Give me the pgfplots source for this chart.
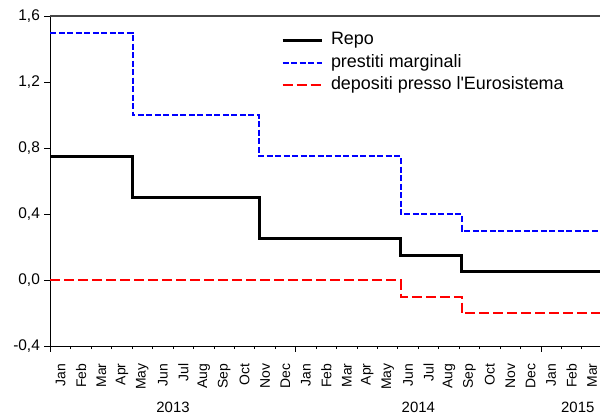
\documentclass[border=0pt]{standalone}
\usepackage{fontspec}
\setmainfont{Liberation Sans}
\usepackage{pgfplots}
\pgfplotsset{compat=1.18}

\definecolor{frametop}{RGB}{70,70,70}

\begin{document}
\begin{tikzpicture}
\begin{axis}[
  scale only axis,
  width=551.9bp,
  height=330bp,
  xmin=0, xmax=27,
  ymin=-0.4, ymax=1.6,
  clip=false,
  axis x line*=bottom,
  axis y line*=left,
  axis line style={black, line width=0.9bp},
  tick align=outside,
  tick style={black, line width=0.8bp},
  ytick={-0.4,0,0.4,0.8,1.2,1.6},
  yticklabel style={font=\fontsize{15.5}{18}\selectfont, xshift=-1bp},
  major tick length=6bp,
  y tick label style={/pgf/number format/.cd, fixed, fixed zerofill, precision=1, use comma, assume math mode=true},
  xtick={0.5,1.5,...,26.5},
  xticklabels={Jan,Feb,Mar,Apr,May,Jun,Jul,Aug,Sep,Oct,Nov,Dec,Jan,Feb,Mar,Apr,May,Jun,Jul,Aug,Sep,Oct,Nov,Dec,Jan,Feb,Mar},
  major x tick style={draw=none},
  xticklabel style={rotate=90, anchor=east, font=\fontsize{14}{16}\selectfont},
  xticklabel shift=8bp,
  minor xtick={1,...,26},
  minor tick length=3bp,
  legend style={draw=none, fill=none, at={(0.4175,0.951)}, anchor=north west,
    font=\fontsize{18}{20}\selectfont, inner sep=0bp, row sep=6.5bp,
    nodes={inner sep=0bp, text height=12.5bp, text depth=3.5bp}},
  legend cell align=left,
  legend image code/.code={\draw[#1] (0bp,0bp) -- (39bp,0bp);},
  /tikz/every odd column/.append style={column sep=8bp},
]
\addplot[const plot, black, line width=3bp] coordinates {
  (0,0.75) (4.03,0.50) (10.22,0.25) (17.14,0.15) (20.12,0.05) (27,0.05)};
\addplot[const plot, blue, line width=2bp, dash pattern=on 6bp off 2.5bp] coordinates {
  (0,1.50) (4.03,1.00) (10.22,0.75) (17.14,0.40) (20.12,0.30) (27,0.30)};
\addplot[const plot, red, line width=2bp, dash pattern=on 10bp off 4bp] coordinates {
  (0,0.00) (4.03,0.00) (10.22,0.00) (17.14,-0.10) (20.12,-0.20) (27,-0.20)};
\legend{Repo,prestiti marginali,depositi presso l\textquotesingle Eurosistema}
\draw[frametop, line width=1.5bp] (rel axis cs:0,1) -- (rel axis cs:1,1);
\draw[black, line width=0.8bp] (axis cs:0,-0.4) -- ([yshift=-6bp]axis cs:0,-0.4);
\draw[black, line width=0.8bp] (axis cs:12,-0.4) -- ([yshift=-6bp]axis cs:12,-0.4);
\draw[black, line width=0.8bp] (axis cs:24,-0.4) -- ([yshift=-6bp]axis cs:24,-0.4);
\node[font=\fontsize{15}{18}\selectfont] at (axis cs:6,-0.4) [yshift=-61bp] {2013};
\node[font=\fontsize{15}{18}\selectfont] at (axis cs:18,-0.4) [yshift=-61bp] {2014};
\node[font=\fontsize{15}{18}\selectfont] at (axis cs:25.8,-0.4) [yshift=-61bp] {2015};
\coordinate (ll) at (rel axis cs:0,0);
\coordinate (ur) at (rel axis cs:1,1);
\end{axis}
\pgfresetboundingbox
\path[use as bounding box] ([shift={(-50.4bp,-68bp)}]ll) rectangle ([shift={(-2.3bp,16bp)}]ur);
\end{tikzpicture}
\end{document}
